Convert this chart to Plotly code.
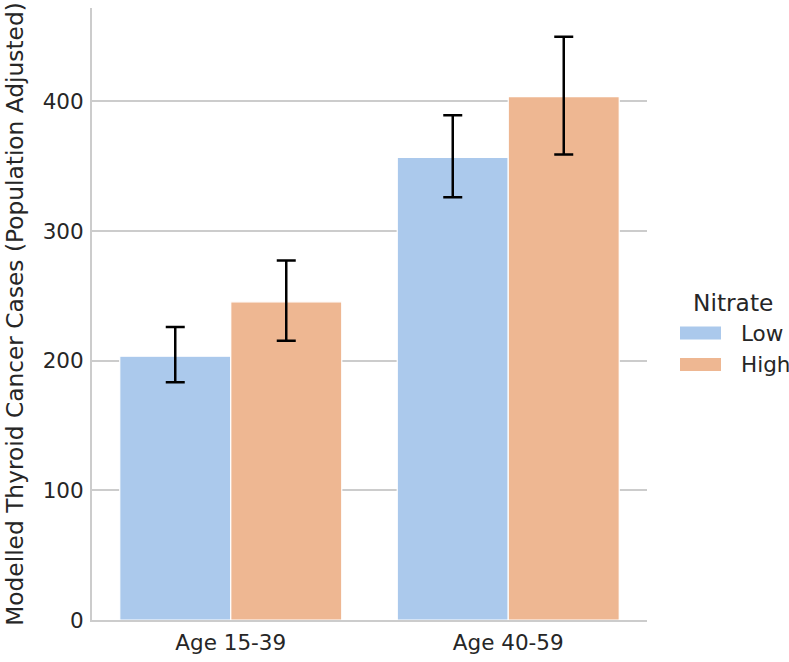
import plotly.graph_objects as go

categories = ["Age 15-39", "Age 40-59"]
groups = ["Low", "High"]
values_low = [203.5, 356.7]
values_high = [245.4, 403.6]
err_low_upper = [226.0, 389.2]
err_low_lower = [183.3, 326.0]
err_high_upper = [277.2, 449.9]
err_high_lower = [215.4, 359.0]
y_ticks = [0, 100, 200, 300, 400]
legend_title = "Nitrate"

colors = {"Low": "#abc9ec", "High": "#eeb792"}

W, H = 789, 662
ML, MR, MT, MB = 92, 142, 8, 42
PW, PH = W - ML - MR, H - MT - MB

def px_x(p):
    return (p - ML) / PW

def px_y(p):
    return (H - MB - p) / PH

fig = go.Figure()
for name, vals, up, lo in [
    ("Low", values_low, err_low_upper, err_low_lower),
    ("High", values_high, err_high_upper, err_high_lower),
]:
    fig.add_trace(go.Bar(
        x=categories, y=vals, name=name, showlegend=False,
        marker=dict(color=colors[name], line=dict(color="white", width=1.2)),
        error_y=dict(type="data", symmetric=False,
                     array=[u - v for u, v in zip(up, vals)],
                     arrayminus=[v - l for v, l in zip(vals, lo)],
                     color="black", thickness=2.5, width=9.5),
    ))

text_color = "#262626"
tick_size = 21.5
label_size = 23.3

# manual legend
annotations = [dict(text=legend_title, xref="paper", yref="paper",
                    x=px_x(733), y=px_y(302), xanchor="center", yanchor="middle",
                    showarrow=False, font=dict(size=label_size, color=text_color))]
shapes = []
for i, g in enumerate(groups):
    cy = 333 + i * 31.5
    shapes.append(dict(type="rect", xref="paper", yref="paper",
                       x0=px_x(680), x1=px_x(721), y0=px_y(cy - 6.5), y1=px_y(cy + 6.5),
                       fillcolor=colors[g], line=dict(width=0)))
    annotations.append(dict(text=g, xref="paper", yref="paper",
                            x=px_x(739), y=px_y(cy), xanchor="left", yanchor="middle",
                            showarrow=False, font=dict(size=tick_size, color=text_color)))

fig.update_layout(
    width=W, height=H,
    margin=dict(l=ML, r=MR, t=MT, b=MB),
    plot_bgcolor="white", paper_bgcolor="white",
    barmode="group", bargap=0.2, bargroupgap=0,
    font=dict(family="DejaVu Sans", size=tick_size, color=text_color),
    showlegend=False,
    annotations=annotations, shapes=shapes,
    xaxis=dict(
        range=[-0.5, 1.5], showgrid=False, showline=True,
        linecolor="#cccccc", linewidth=2, ticks="", zeroline=False,
        tickfont=dict(size=tick_size), ticklabelstandoff=2,
    ),
    yaxis=dict(
        range=[0, 472], tickvals=y_ticks, showgrid=True,
        gridcolor="#cccccc", gridwidth=1.5, showline=True,
        linecolor="#cccccc", linewidth=2, ticks="", zeroline=False,
        tickfont=dict(size=tick_size),
        title=dict(text="Modelled Thyroid Cancer Cases (Population Adjusted)",
                   font=dict(size=label_size), standoff=12),
        ticklabelstandoff=2,
        automargin=False,
    ),
)

fig.write_html("out.html")
